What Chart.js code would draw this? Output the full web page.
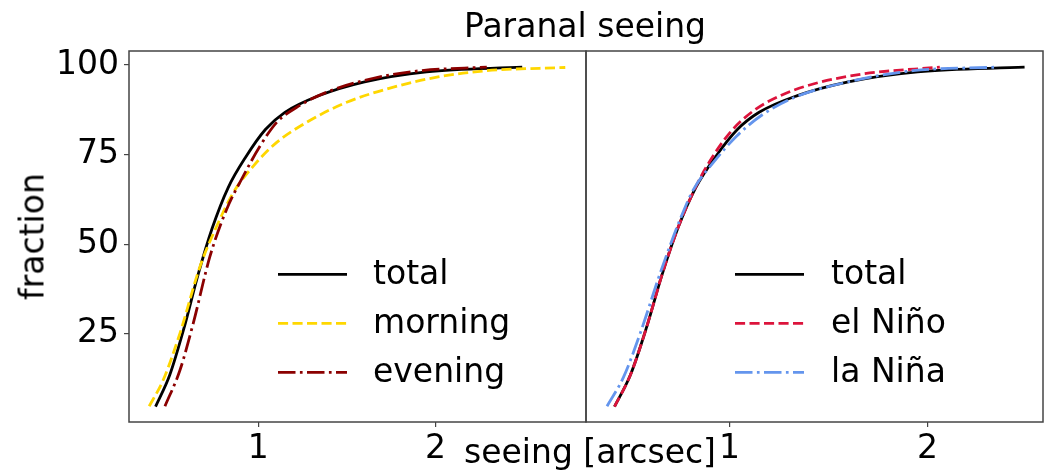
<!DOCTYPE html>
<html>
<head>
<meta charset="utf-8">
<script src="https://cdn.jsdelivr.net/npm/chart.js@4.4.1/dist/chart.umd.min.js"></script>
<style>
  body { margin: 0; background: #fff; width: 1051px; height: 473px; overflow: hidden; position: relative; font-family: "DejaVu Sans", sans-serif; }
  canvas { position: absolute; top: 0; }
  #left-panel { left: 0; }
  #right-panel { left: 580px; }
  .label { position: absolute; font-size: 33px; line-height: 33px; white-space: nowrap; color: #000; }
  #title { left: 385px; width: 400px; top: 9px; text-align: center; }
  #xlabel { left: 390px; width: 400px; top: 435px; text-align: center; }
  #ylabel { left: -43px; width: 150px; top: 220px; text-align: center; transform: rotate(-90deg); }
</style>
</head>
<body>
<canvas id="left-panel" width="590" height="473"></canvas>
<canvas id="right-panel" width="471" height="473"></canvas>
<div class="label" id="title">Paranal seeing</div>
<div class="label" id="xlabel">seeing [arcsec]</div>
<div class="label" id="ylabel">fraction</div>
<script>
const X_TICKS = [1, 2];
const Y_TICKS = [25, 50, 75, 100];

// cumulative seeing distribution, seeing in arcsec vs fraction in %
const TOTAL_X = [0.42, 0.50, 0.58, 0.66, 0.74, 0.83, 0.93, 1.04, 1.15, 1.34, 1.60, 1.95, 2.49];
const TOTAL_Y = [4.7, 13.5, 26.5, 41.5, 54.5, 65.8, 74.4, 82.0, 86.8, 91.4, 95.3, 98.1, 99.4];

const MORNING_X = [0.384, 0.463, 0.558, 0.671, 0.765, 0.859, 0.972, 1.104, 1.273, 1.499, 1.763, 2.008, 2.290, 2.733];
const MORNING_Y = [4.8, 12.1, 25.2, 43.8, 55.0, 64.4, 71.8, 78.4, 84.0, 89.6, 93.8, 96.6, 98.4, 99.3];

const EVENING_X = [0.473, 0.558, 0.633, 0.727, 0.821, 0.915, 1.010, 1.104, 1.217, 1.386, 1.650, 1.914, 2.290];
const EVENING_Y = [4.8, 14.9, 28.0, 46.6, 59.7, 69.0, 77.4, 84.0, 88.2, 92.4, 96.3, 98.4, 99.4];

const NINO_X = [0.42, 0.50, 0.58, 0.66, 0.74, 0.82, 0.886, 1.004, 1.121, 1.256, 1.423, 1.675, 2.062];
const NINO_Y = [4.7, 13.5, 26.5, 41.5, 54.5, 64.8, 71.8, 81.2, 87.2, 91.4, 94.7, 97.5, 99.4];

const NINA_X = [0.382, 0.466, 0.550, 0.651, 0.751, 0.819, 0.919, 1.037, 1.171, 1.340, 1.592, 1.927, 2.348];
const NINA_Y = [4.8, 13.0, 25.2, 42.0, 56.9, 65.3, 72.8, 80.2, 86.3, 91.2, 95.2, 98.4, 99.4];

const FONT = '"DejaVu Sans", sans-serif';
const SPINE = '#444';

function points(xs, ys) {
  return xs.map((x, i) => ({ x, y: ys[i] }));
}

function curve(label, xs, ys, color, dash, order) {
  return {
    label,
    data: points(xs, ys),
    borderColor: color,
    backgroundColor: color,
    borderWidth: 2.8,
    borderDash: dash,
    borderCapStyle: 'butt',
    pointRadius: 0,
    cubicInterpolationMode: 'monotone',
    fill: false,
    order,
  };
}

const DASHED = [10.1, 4.4];
const DASHDOT = [17.5, 4.4, 2.7, 4.4];

// box around the plot area plus the legend drawn inside it
const framePlugin = {
  id: 'frame',
  afterDraw(chart, args, opts) {
    const { ctx, chartArea: a } = chart;
    ctx.save();
    ctx.strokeStyle = SPINE;
    ctx.lineWidth = 1.5;
    ctx.strokeRect(a.left, a.top, a.right - a.left, a.bottom - a.top);

    const leg = opts.legend;
    if (leg) {
      ctx.font = `33px ${FONT}`;
      ctx.textBaseline = 'middle';
      ctx.textAlign = 'left';
      chart.data.datasets.forEach((ds, i) => {
        const y = leg.top + i * leg.step;
        ctx.beginPath();
        ctx.strokeStyle = ds.borderColor;
        ctx.lineWidth = ds.borderWidth;
        ctx.lineCap = 'butt';
        ctx.setLineDash(ds.borderDash || []);
        ctx.moveTo(leg.x0, y);
        ctx.lineTo(leg.x1, y);
        ctx.stroke();
        ctx.setLineDash([]);
        ctx.fillStyle = '#000';
        ctx.fillText(ds.label, leg.textX, y + 1);
      });
    }
    ctx.restore();
  },
};

function panelOptions(xMin, xMax, showY, yWidth, padRight, legend) {
  return {
    animation: false,
    responsive: false,
    layout: { padding: { top: 51, right: padRight, left: 0, bottom: 0 } },
    plugins: {
      legend: { display: false },
      tooltip: { enabled: false },
      frame: { legend },
    },
    scales: {
      x: {
        type: 'linear',
        min: xMin,
        max: xMax,
        border: { display: false },
        grid: { display: true, drawOnChartArea: false, drawTicks: true, tickLength: 5, color: SPINE, lineWidth: 1.2 },
        ticks: { color: '#000', font: { family: FONT, size: 33 }, padding: 3, maxRotation: 0 },
        afterBuildTicks: (scale) => { scale.ticks = X_TICKS.map((v) => ({ value: v })); },
        afterFit: (scale) => { scale.height = 51; },
      },
      y: {
        type: 'linear',
        min: 0.4,
        max: 103.9,
        border: { display: false },
        grid: { display: showY, drawOnChartArea: false, drawTicks: true, tickLength: 5, color: SPINE, lineWidth: 1.2 },
        ticks: { display: showY, color: '#000', font: { family: FONT, size: 33 }, padding: 5 },
        afterBuildTicks: (scale) => { scale.ticks = Y_TICKS.map((v) => ({ value: v })); },
        afterFit: (scale) => { scale.width = yWidth; },
      },
    },
  };
}

new Chart(document.getElementById('left-panel'), {
  type: 'line',
  data: {
    datasets: [
      curve('total', TOTAL_X, TOTAL_Y, '#000000', [], 3),
      curve('morning', MORNING_X, MORNING_Y, '#FFD700', DASHED, 2),
      curve('evening', EVENING_X, EVENING_Y, '#8B0000', DASHDOT, 1),
    ],
  },
  options: panelOptions(0.27, 2.85, true, 129, 4, { x0: 278, x1: 347, textX: 373, top: 274.3, step: 49 }),
  plugins: [framePlugin],
});

new Chart(document.getElementById('right-panel'), {
  type: 'line',
  data: {
    datasets: [
      curve('total', TOTAL_X, TOTAL_Y, '#000000', [], 3),
      curve('el Niño', NINO_X, NINO_Y, '#DC143C', DASHED, 2),
      curve('la Niña', NINA_X, NINA_Y, '#6495ED', DASHDOT, 1),
    ],
  },
  options: panelOptions(0.276, 2.583, false, 6, 8, { x0: 155, x1: 224, textX: 251, top: 274.3, step: 49 }),
  plugins: [framePlugin],
});
</script>
</body>
</html>
